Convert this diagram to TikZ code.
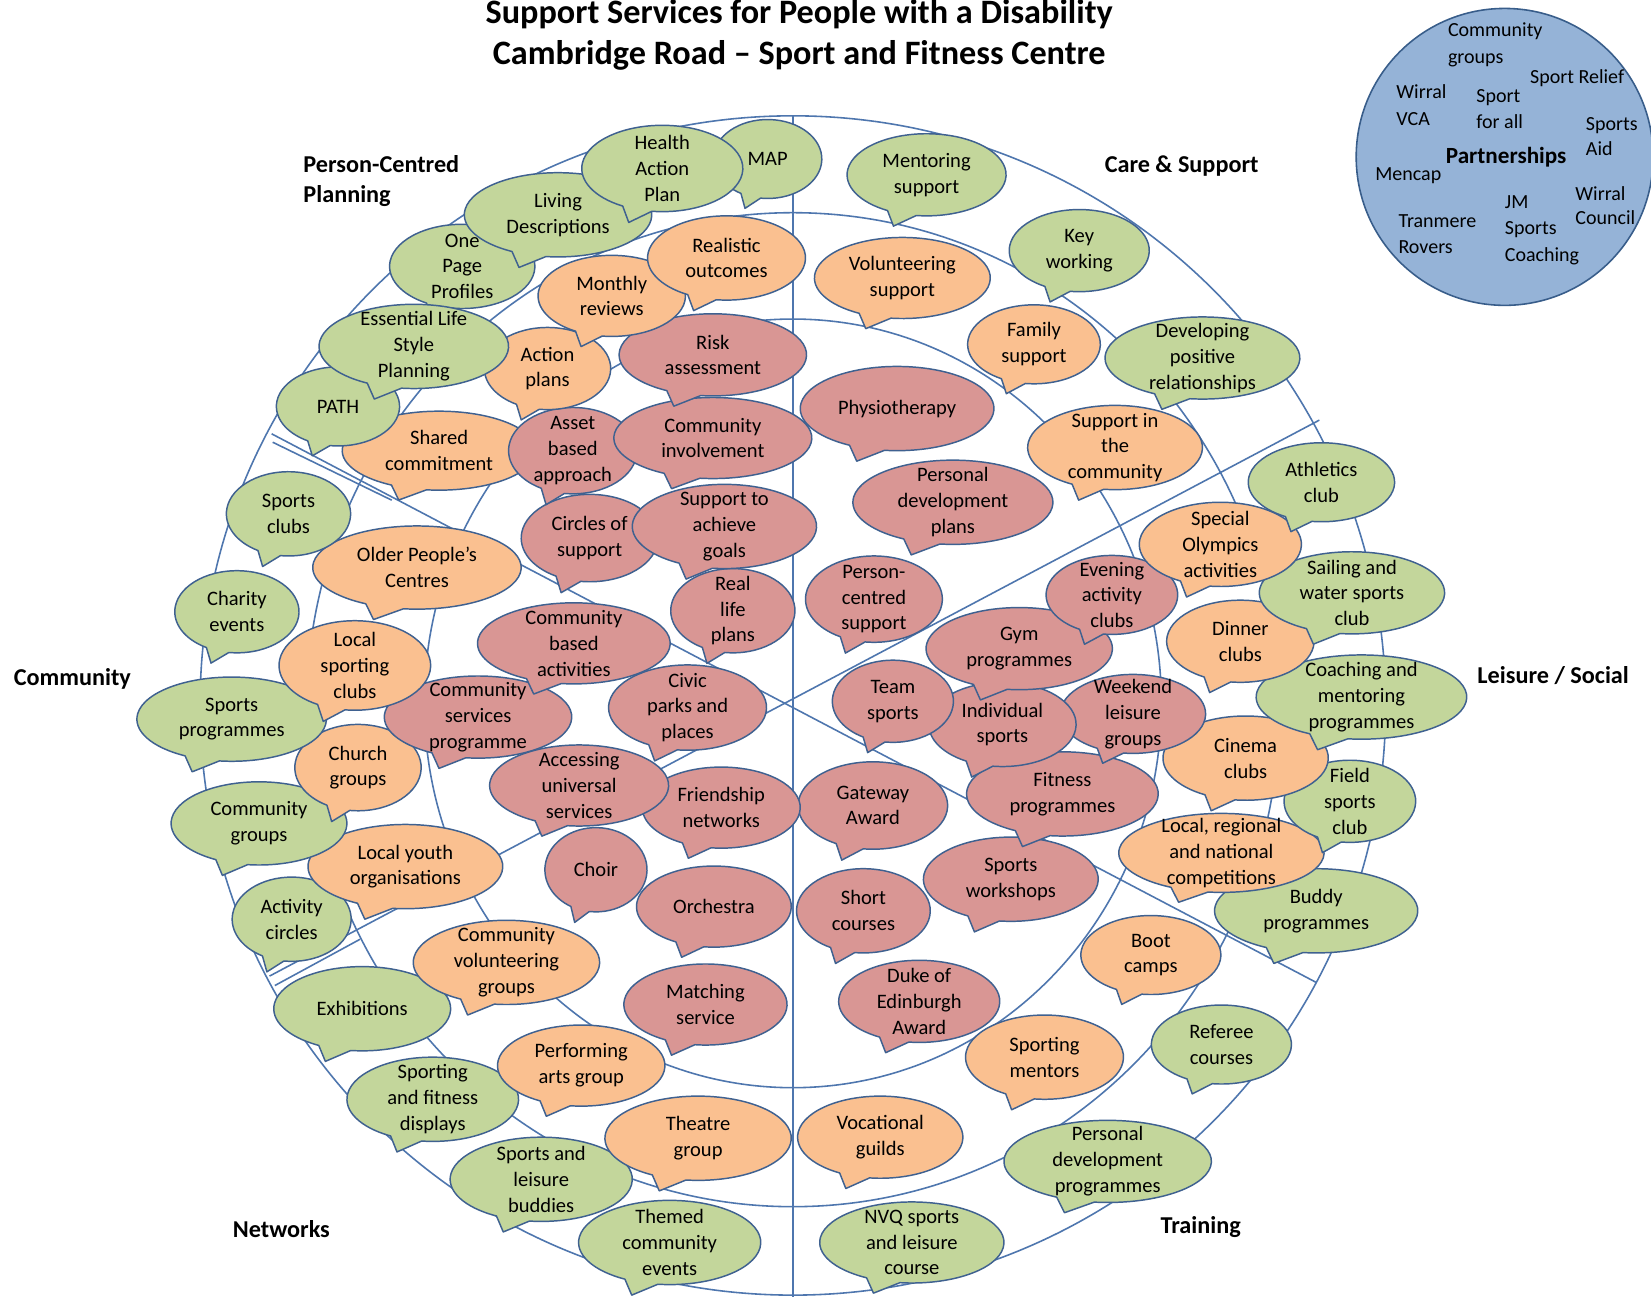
\documentclass[tikz,border=0pt]{standalone}
\usepackage{fontspec}
\setmainfont{Carlito}

\definecolor{bgreen}{HTML}{C3D69B}
\definecolor{borange}{HTML}{FAC090}
\definecolor{bred}{HTML}{D99694}
\definecolor{bline}{HTML}{3F6190}
\definecolor{ringline}{HTML}{4E76AE}
\definecolor{pfill}{HTML}{95B3D7}
\definecolor{pline}{HTML}{385D8A}

\tikzset{
  bubshape/.style={draw=bline, line width=1.4pt, line join=round},
  bubtext/.style={align=center, inner sep=0pt, text=black,
    font=\fontsize{19.5}{24.5}\selectfont},
  ring/.style={draw=ringline, line width=1.5pt},
  sector/.style={font=\bfseries\fontsize{23}{28}\selectfont, anchor=base west, inner sep=0pt},
  ptext/.style={font=\fontsize{19}{24}\selectfont, anchor=base west, inner sep=0pt},
  headline/.style={font=\bfseries\fontsize{32.5}{38}\selectfont, anchor=base, inner sep=0pt},
}

% Oval speech bubble: name, centre x, centre y, width, height, fill, text.
% The tail leaves the ellipse between 97.4 and 119.4 degrees (y pointing down)
% and ends below and left of the centre.
\newcommand\bub[7]{%
  \path[bubshape, fill=#6]
    ({#2-0.06466*#4},{#3+0.4958*#5})
    arc[start angle=262.57, end angle=600.57, x radius=#4*0.5pt, y radius=#5*0.5pt]
    -- ({#2-0.20833*#4},{#3+0.625*#5}) -- cycle;
  \node[bubtext] (#1) at (#2,#3) {#7};
}

\begin{document}
\begin{tikzpicture}[x=1pt,y=-1pt]
\useasboundingbox (0,0) rectangle (1568,1232);
\fill[white] (0,0) rectangle (1568,1232);

% title
\node[headline] (title1) at (759,22) {Support Services for People with a Disability};
\node[headline] (title2) at (759,61) {Cambridge Road – Sport and Fitness Centre};

% rings, axis and diagonals
\coordinate (ctr) at (753,670);
\draw[ring] (753,670) ellipse [x radius=563pt, y radius=560pt];
\draw[ring] (753,674) ellipse [x radius=462pt, y radius=472pt];
\draw[ring] (753,668) ellipse [x radius=350pt, y radius=365pt];
\coordinate (vtop) at (753,110);
\coordinate (vbot) at (753,1232);
\draw[ring] (vtop) -- (vbot);
\coordinate (dtl) at (258,412);
\coordinate (dbr) at (1250,933);
\coordinate (dbl) at (256,927);
\coordinate (dtr) at (1253,399);
\draw[ring] (dtl) -- (dbr);
\draw[ring] (dbl) -- (dtr);
% short doubled strokes near the left ends of the diagonals
\coordinate (dtl2) at (259,420);
\coordinate (dtl3) at (372,475);
\coordinate (dbl2) at (261,936);
\coordinate (dbl3) at (342,892);
\draw[ring] (dtl2) -- (dtl3);
\draw[ring] (dbl2) -- (dbl3);

% sector labels
\node[sector] (lpcp1) at (288,164) {Person-Centred};
\node[sector] (lpcp2) at (288,192) {Planning};
\node[sector] (lcare) at (1049,164) {Care \& Support};
\node[sector] (lcomm) at (13,651) {Community};
\node[sector] (lleis) at (1403,649) {Leisure / Social};
\node[sector] (lnetw) at (221,1175) {Networks};
\node[sector] (ltrain) at (1102,1171) {Training};

% bubbles, lowest first
\bub{themed}{636}{1180}{173}{80}{bgreen}{Themed\\community\\events}
\bub{nvq}{866}{1180}{175}{77}{bgreen}{NVQ sports\\and leisure\\course}
\bub{slb}{514}{1120}{173}{80}{bgreen}{Sports and\\leisure\\buddies}
\bub{pdprog}{1052}{1103}{197}{78}{bgreen}{Personal\\development\\programmes}
\bub{vocat}{836}{1080}{157}{78}{borange}{Vocational\\guilds}
\bub{theatre}{663}{1081}{177}{80}{borange}{Theatre\\group}
\bub{sfd}{411}{1044}{163}{80}{bgreen}{Sporting\\and fitness\\displays}
\bub{perform}{552}{1012}{159}{77}{borange}{Performing\\arts group}
\bub{smentor}{992}{1004}{150}{80}{borange}{Sporting\\mentors}
\bub{referee}{1160}{992}{133}{75}{bgreen}{Referee\\courses}
\bub{exhib}{344}{958}{168}{80}{bgreen}{Exhibitions}
\bub{matching}{670}{954}{155}{77}{bred}{Matching\\service}
\bub{duke}{873}{951}{153}{78}{bred}{Duke of\\Edinburgh\\Award}
\bub{commvol}{481}{914}{177}{80}{borange}{Community\\volunteering\\groups}
\bub{boot}{1093}{907}{133}{75}{borange}{Boot\\camps}
\bub{activity}{277}{873}{113}{80}{bgreen}{Activity\\circles}
\bub{short}{820}{865}{127}{80}{bred}{Short\\courses}
\bub{buddy}{1250}{865}{193}{80}{bgreen}{Buddy\\programmes}
\bub{orch}{678}{861}{147}{77}{bred}{Orchestra}
\bub{workshop}{960}{835}{166}{80}{bred}{Sports\\workshops}
\bub{choir}{566}{826}{97}{80}{bred}{Choir}
\bub{youth}{385}{823}{185}{80}{borange}{Local youth\\organisations}
\bub{compet}{1160}{810}{195}{75}{borange}{Local, regional\\and national\\competitions}
\bub{commgrp}{246}{782}{167}{79}{bgreen}{Community\\groups}
\bub{gateway}{829}{765}{142}{83}{bred}{Gateway\\Award}
\bub{friend}{685}{767}{150}{77}{bred}{Friendship\\networks}
\bub{field}{1282}{761}{125}{78}{bgreen}{Field\\sports\\club}
\bub{fitness}{1009}{754}{182}{80}{bred}{Fitness\\programmes}
\bub{access}{550}{746}{170}{77}{bred}{Accessing\\universal\\services}
\bub{church}{340}{729}{120}{82}{borange}{Church\\groups}
\bub{cinema}{1183}{720}{157}{80}{borange}{Cinema\\clubs}
\bub{sprog}{220}{683}{180}{80}{bgreen}{Sports\\programmes}
\bub{commserv}{454}{681}{178}{78}{bred}{Community\\services\\programme}
\bub{weekend}{1076}{678}{138}{75}{bred}{Weekend\\leisure\\groups}
\bub{individ}{952}{688}{140}{80}{bred}{Individual\\sports}
\bub{civic}{653}{672}{150}{81}{bred}{Civic\\parks and\\places}
\bub{team}{848}{666}{115}{78}{bred}{Team\\sports}
\bub{coach}{1293}{662}{200}{80}{bgreen}{Coaching and\\mentoring\\programmes}
\bub{lsport}{337}{632}{144}{85}{borange}{Local\\sporting\\clubs}
\bub{gym}{968}{616}{177}{78}{bred}{Gym\\programmes}
\bub{commbase}{545}{611}{183}{77}{bred}{Community\\based\\activities}
\bub{dinner}{1178}{609}{140}{78}{borange}{Dinner\\clubs}
\bub{charity}{225}{581}{118}{78}{bgreen}{Charity\\events}
\bub{reallife}{696}{580}{118}{80}{bred}{Real\\life\\plans}
\bub{pcs}{830}{569}{130}{82}{bred}{Person-\\centred\\support}
\bub{evening}{1056}{565}{125}{75}{bred}{Evening\\activity\\clubs}
\bub{sailing}{1284}{563}{176}{78}{bgreen}{Sailing and\\water sports\\club}
\bub{older}{396}{539}{198}{79}{borange}{Older People’s\\Centres}
\bub{special}{1159}{517}{154}{80}{borange}{Special\\Olympics\\activities}
\bub{circles}{560}{511}{130}{83}{bred}{Circles of\\support}
\bub{stag}{688}{500}{175}{80}{bred}{Support to\\achieve\\goals}
\bub{sclubs}{274}{488}{118}{80}{bgreen}{Sports\\clubs}
\bub{pdplans}{905}{477}{190}{80}{bred}{Personal\\development\\plans}
\bub{athletic}{1255}{458}{139}{75}{bgreen}{Athletics\\club}
\bub{shared}{417}{428}{184}{75}{borange}{Shared\\commitment}
\bub{asset}{544}{428}{122}{82}{bred}{Asset\\based\\approach}
\bub{suppcomm}{1059}{425}{166}{80}{borange}{Support in\\the\\community}
\bub{comminv}{677}{416}{188}{77}{bred}{Community\\involvement}
\bub{path}{321}{386}{117}{75}{bgreen}{PATH}
\bub{physio}{852}{388}{184}{80}{bred}{Physiotherapy}
\bub{action}{520}{350}{120}{78}{borange}{Action\\plans}
\bub{develop}{1142}{340}{185}{78}{bgreen}{Developing\\positive\\relationships}
\bub{risk}{677}{337}{178}{78}{bred}{Risk\\assessment}
\bub{opp}{439}{253}{138}{80}{bgreen}{One\\Page\\Profiles}
\bub{elsp}{393}{329}{180}{80}{bgreen}{Essential Life\\Style\\Planning}
\bub{family}{982}{327}{126}{75}{borange}{Family\\support}
\bub{monthly}{581}{281}{140}{77}{borange}{Monthly\\reviews}
\bub{volunt}{857}{264}{167}{77}{borange}{Volunteering\\support}
\bub{realist}{690}{245}{150}{80}{borange}{Realistic\\outcomes}
\bub{keywork}{1025}{238}{133}{78}{bgreen}{Key\\working}
\bub{living}{530}{204}{178}{80}{bgreen}{Living\\Descriptions}
\bub{mentor}{880}{166}{151}{78}{bgreen}{Mentoring\\support}
\bub{map}{729}{151}{103}{75}{bgreen}{MAP}
\bub{hap}{629}{160}{153}{82}{bgreen}{Health\\Action\\Plan}

% partnerships
\coordinate (pc) at (1429,149);
\draw[fill=pfill, draw=pline, line width=1.5pt] (pc) circle[radius=141pt];
\node[ptext] (p1) at (1375,35) {Community};
\node[ptext] (p2) at (1375,60) {groups};
\node[ptext] (p3) at (1453,79) {Sport Relief};
\node[ptext] (p4) at (1326,94) {Wirral};
\node[ptext] (p5) at (1326,119) {VCA};
\node[ptext] (p6) at (1402,97) {Sport};
\node[ptext] (p7) at (1402,122) {for all};
\node[ptext] (p8) at (1506,124) {Sports};
\node[ptext] (p9) at (1506,148) {Aid};
\node[ptext, font=\bfseries\fontsize{22}{28}\selectfont] (p10) at (1373,155) {Partnerships};
\node[ptext] (p11) at (1306,171) {Mencap};
\node[ptext] (p12) at (1429,198) {JM};
\node[ptext] (p13) at (1429,223) {Sports};
\node[ptext] (p14) at (1429,248) {Coaching};
\node[ptext] (p15) at (1496,190) {Wirral};
\node[ptext] (p16) at (1496,213) {Council};
\node[ptext] (p17) at (1328,216) {Tranmere};
\node[ptext] (p18) at (1328,241) {Rovers};
\end{tikzpicture}
\end{document}
